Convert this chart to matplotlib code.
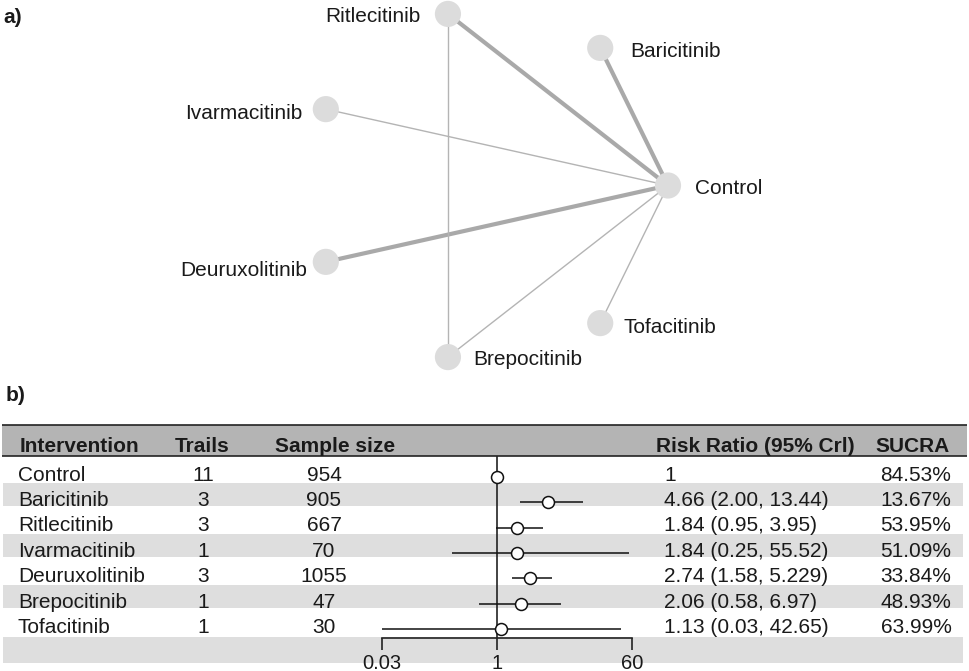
import numpy as np
import matplotlib
matplotlib.use("Agg")
import matplotlib.pyplot as plt

plt.rcParams['font.family'] = ['Liberation Sans', 'DejaVu Sans']

# ---------------- data ----------------
nodes = ["Control", "Baricitinib", "Ritlecitinib", "Ivarmacitinib",
         "Deuruxolitinib", "Brepocitinib", "Tofacitinib"]
edge_from = ["Control", "Control", "Control", "Control", "Control", "Control", "Ritlecitinib"]
edge_to = ["Baricitinib", "Ritlecitinib", "Ivarmacitinib", "Deuruxolitinib",
           "Brepocitinib", "Tofacitinib", "Brepocitinib"]
edge_weight = [3, 3, 1, 3, 1, 1, 1]

interventions = ["Control", "Baricitinib", "Ritlecitinib", "Ivarmacitinib",
                 "Deuruxolitinib", "Brepocitinib", "Tofacitinib"]
trials = [11, 3, 3, 1, 3, 1, 1]
sample_size = [954, 905, 667, 70, 1055, 47, 30]
rr = [1, 4.66, 1.84, 1.84, 2.74, 2.06, 1.13]
rr_lo = [np.nan, 2.00, 0.95, 0.25, 1.58, 0.58, 0.03]
rr_hi = [np.nan, 13.44, 3.95, 55.52, 5.229, 6.97, 42.65]
rr_text = ["1", "4.66 (2.00, 13.44)", "1.84 (0.95, 3.95)", "1.84 (0.25, 55.52)",
           "2.74 (1.58, 5.229)", "2.06 (0.58, 6.97)", "1.13 (0.03, 42.65)"]
sucra = ["84.53%", "13.67%", "53.95%", "51.09%", "33.84%", "48.93%", "63.99%"]
headers = ["Intervention", "Trails", "Sample size", "Risk Ratio (95% Crl)", "SUCRA"]
axis_ticks = [0.03, 1, 60]
axis_ticklabels = ["0.03", "1", "60"]

# ---------------- layout helpers ----------------
W, H = 969, 671
PT = 0.72  # points per pixel at dpi 100
TXT = '#1a1a1a'
fig = plt.figure(figsize=(W / 100, H / 100), dpi=100)

def fy(py):
    return 1 - py / H

# ---------------- a) network ----------------
cx, cy, rx, ry = 488, 185.5, 180, 176
axn = fig.add_axes([0, fy(380), 1, 380 / H])
axn.set_xlim((0 - cx) / rx, (W - cx) / rx)
axn.set_ylim((cy - 380) / ry, (cy - 0) / ry)
axn.axis('off')
theta = 2 * np.pi * np.arange(len(nodes)) / len(nodes)
pos = {n: (np.cos(t), np.sin(t)) for n, t in zip(nodes, theta)}
for a, b, w in zip(edge_from, edge_to, edge_weight):
    (x0, y0), (x1, y1) = pos[a], pos[b]
    axn.plot([x0, x1], [y0, y1], color='#a9a9a9' if w > 1 else '#b4b4b4',
             lw=w * 1.0 if w > 1 else 1.0, solid_capstyle='butt', zorder=1)
xs = [pos[n][0] for n in nodes]
ys = [pos[n][1] for n in nodes]
axn.scatter(xs, ys, s=355, color='#dcdcdc', edgecolors='none', zorder=3)
label_off = {"Control": (27, 8, 'left'), "Baricitinib": (30, 9, 'left'),
             "Ritlecitinib": (-27, 8, 'right'), "Ivarmacitinib": (-23, 10, 'right'),
             "Deuruxolitinib": (-19, 14, 'right'), "Brepocitinib": (25, 8, 'left'),
             "Tofacitinib": (23, 10, 'left')}
for n in nodes:
    dx, dy, ha = label_off[n]
    axn.annotate(n, pos[n], xytext=(dx * PT, -dy * PT), textcoords='offset points',
                 ha=ha, va='baseline', fontsize=15, color=TXT)

fig.text(3 / W, fy(23), "a)", fontsize=15, fontweight='bold', ha='left', va='baseline', color=TXT)
fig.text(6 / W, fy(401), "b)", fontsize=15, fontweight='bold', ha='left', va='baseline', color=TXT)

# ---------------- b) table ----------------
r0, rs = 473, 25.4  # row 0 center (px), row spacing (px)

def row(py):
    return (py - r0) / rs

axt = fig.add_axes([0, 0, 1, fy(420)])
axt.set_xlim(0, W)
axt.set_ylim(row(H), row(420))
axt.axis('off')

# header band and rules
axt.axhspan(row(456), row(425), xmin=2 / W, xmax=967 / W, color='#b4b4b4', lw=0, zorder=0)
axt.hlines([row(425), row(456)], 2, 967, color='#222222', lw=1.2, zorder=2)

n_rows = len(interventions)
# striped rows
for i in range(1, n_rows, 2):
    axt.axhspan(i - 0.59, i + 0.31, xmin=3 / W, xmax=963 / W, color='#dedede', lw=0, zorder=0)
# band behind the axis
axt.axhspan(n_rows - 0.54, n_rows + 0.48, xmin=3 / W, xmax=963 / W, color='#dedede', lw=0, zorder=0)

hb = row(452)
axt.text(20, hb, headers[0], fontsize=15, fontweight='bold', ha='left', va='baseline', color=TXT)
axt.text(202, hb, headers[1], fontsize=15, fontweight='bold', ha='center', va='baseline', color=TXT)
axt.text(335, hb, headers[2], fontsize=15, fontweight='bold', ha='center', va='baseline', color=TXT)
axt.text(656, hb, headers[3], fontsize=15, fontweight='bold', ha='left', va='baseline', color=TXT)
axt.text(913, hb, headers[4], fontsize=15, fontweight='bold', ha='center', va='baseline', color=TXT)

for i in range(n_rows):
    yb = i + 0.3
    axt.text(18, yb, interventions[i], fontsize=15, ha='left', va='baseline', color=TXT)
    axt.text(203, yb, str(trials[i]), fontsize=15, ha='center', va='baseline', color=TXT)
    axt.text(324, yb, str(sample_size[i]), fontsize=15, ha='center', va='baseline', color=TXT)
    axt.text(664, yb, rr_text[i], fontsize=15, ha='left', va='baseline', color=TXT)
    axt.text(916, yb, sucra[i], fontsize=15, ha='center', va='baseline', color=TXT)

# ---------------- forest plot ----------------
ax_top, ax_bot, ax_l, ax_r = 456, 638, 382, 632
f0, fs = 477.2, 25.3
axf = fig.add_axes([ax_l / W, fy(ax_bot), (ax_r - ax_l) / W, (ax_bot - ax_top) / H])
axf.patch.set_visible(False)
axf.set_xscale('log')
axf.set_xlim(axis_ticks[0], axis_ticks[-1])
axf.set_ylim((ax_bot - f0) / fs, (ax_top - f0) / fs)
for s in ['top', 'left', 'right']:
    axf.spines[s].set_visible(False)
axf.spines['bottom'].set_linewidth(1.2)
axf.spines['bottom'].set_color('#222222')
axf.set_yticks([])
axf.set_xticks(axis_ticks)
axf.set_xticklabels(axis_ticklabels)
axf.minorticks_off()
axf.tick_params(axis='x', direction='out', length=12 * PT, width=1.2, color='#222222',
                labelsize=14.5, pad=3, labelcolor=TXT)
axf.axvline(1, color='#222222', lw=1.2, zorder=1)

yr = np.arange(n_rows)
lo = np.array(rr_lo, dtype=float)
hi = np.array(rr_hi, dtype=float)
m = ~np.isnan(lo)
axf.hlines(yr[m], lo[m], hi[m], color='#111111', lw=1.1, zorder=2, clip_on=False)
axf.plot(rr, yr, 'o', ms=8.6, mfc='white', mec='#111111', mew=1.1, zorder=3, clip_on=False)

fig.savefig('out.png', dpi=100)
